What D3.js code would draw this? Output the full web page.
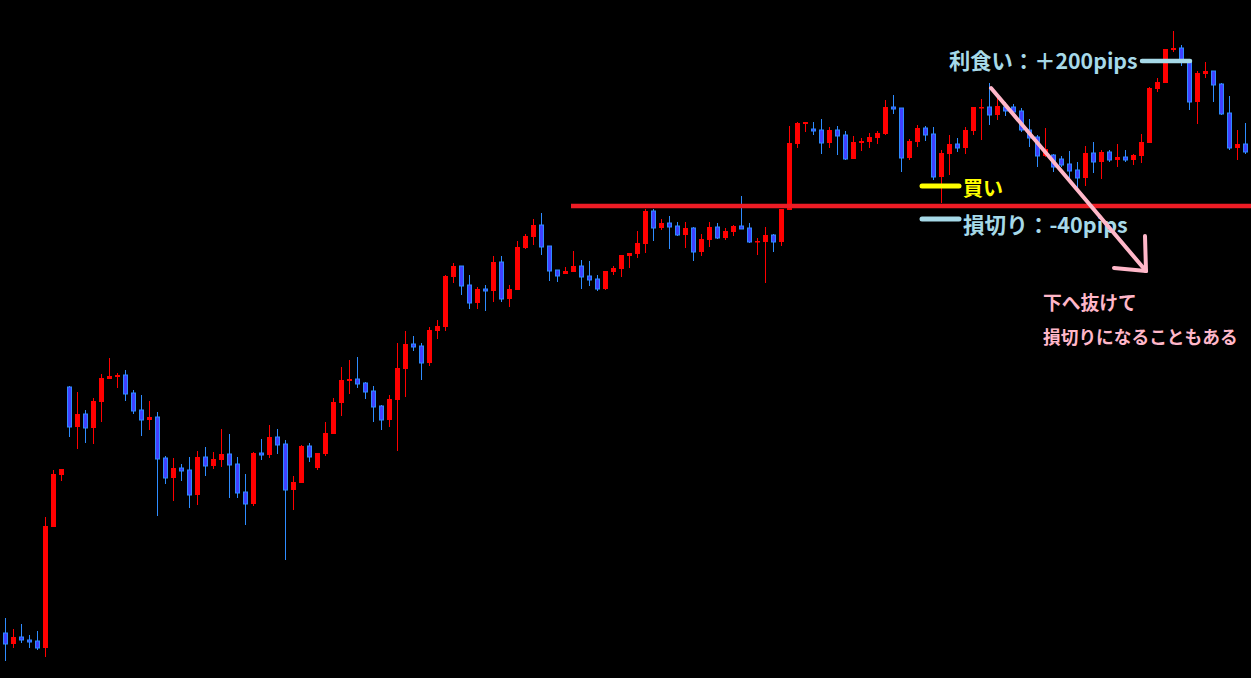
<!DOCTYPE html>
<html><head><meta charset="utf-8">
<script src="https://cdn.jsdelivr.net/npm/d3@7"></script>
<style>html,body{margin:0;padding:0;background:#000;overflow:hidden}</style>
</head><body>
<svg id="chart" width="1251" height="678"></svg>
<script>
const opens = [67,56,63,60,59,52,173,225,313,273,286,272,298,321,323,325,307,290,280,283,242,222,232,230,205,243,234,240,246,236,208,196,247,245,263,256,210,217,254,232,246,266,297,319,321,317,309,294,280,300,331,356,354,337,369,373,423,434,415,397,411,409,438,401,410,452,463,475,454,430,426,428,434,424,421,411,428,431,444,446,456,489,472,477,474,465,472,448,460,473,462,468,474,472,458,458,465,458,490,556,576,571,570,557,570,565,541,557,558,562,566,593,592,542,558,572,566,523,546,556,552,569,592,593,585,593,593,589,570,563,544,545,541,536,530,522,547,538,548,540,543,540,544,557,611,617,650,652,638,598,626,629,616,587,552,556];
const highs = [82,71,76,65,69,183,230,231,314,308,290,302,326,342,327,330,310,305,299,288,244,242,236,243,249,253,248,271,266,243,226,248,261,275,271,260,224,255,257,247,278,302,333,340,343,318,314,295,305,357,369,364,357,373,380,425,437,434,425,413,415,444,444,415,459,466,481,487,454,430,433,449,440,439,425,429,434,445,447,469,491,491,481,484,478,478,473,466,478,477,472,475,504,477,462,473,466,491,574,578,578,578,581,573,574,569,564,562,567,569,600,605,592,561,575,574,573,550,565,562,573,593,601,617,602,598,596,592,581,565,572,546,544,549,538,554,558,550,550,556,550,546,566,613,622,651,669,655,639,629,638,629,617,604,570,577];
const lows = [39,52,57,52,50,43,173,219,263,251,257,256,278,321,312,299,286,264,270,184,216,199,219,192,195,224,231,233,202,202,175,194,240,242,246,140,190,217,238,230,244,266,284,306,312,301,278,270,273,249,303,349,320,334,361,369,417,405,391,391,389,398,398,393,410,451,455,445,419,418,426,428,411,414,409,410,425,423,432,442,447,459,470,451,464,452,439,444,453,461,460,464,471,457,445,417,448,454,490,552,568,565,546,552,545,540,541,549,552,556,565,586,528,540,553,559,520,497,525,548,546,565,560,575,580,584,583,568,553,533,543,528,533,519,512,514,527,521,538,533,538,535,537,557,608,617,648,634,590,576,622,598,585,550,540,546];
const closes = [56,63,60,58,52,174,226,231,273,286,272,299,322,324,325,306,289,280,283,241,222,232,229,205,243,234,241,246,235,207,196,247,245,263,255,210,218,254,243,247,267,298,320,321,316,308,293,280,301,332,356,353,337,370,374,424,434,414,397,411,409,438,401,411,453,464,475,453,429,424,429,434,423,420,411,429,432,445,447,457,489,472,477,473,465,472,448,461,473,462,469,474,471,458,459,465,458,491,557,577,578,569,557,570,564,541,558,559,563,567,593,591,542,559,572,565,523,547,556,552,570,593,593,585,594,589,588,570,562,544,551,533,535,529,522,547,538,548,540,543,540,545,558,612,618,651,652,638,598,627,629,615,586,552,556,548];

// annotation levels (same price units)
const entryLine = 494;
const tpLevel = 639;
const buyLevel = 514;
const slLevel = 481;
const labels = {
  tp: "利食い：＋200pips",
  buy: "買い",
  sl: "損切り：-40pips",
  note1: "下へ抜けて",
  note2: "損切りになることもある"
};

const W = 1251, H = 678;
const svg = d3.select("#chart");
svg.append("rect").attr("width", W).attr("height", H).attr("fill", "#000");

const n = opens.length;
const x = d3.scaleLinear().domain([0, n - 1]).range([5.33, 1245.33]);
const y = d3.scaleLinear().domain([22, 700]).range([H, 0]);

const data = d3.range(n).map(i => ({i, o: opens[i], h: highs[i], l: lows[i], c: closes[i]}));
const upCol = "#ff0000", dnFill = "#4040ff", dnLine = "#2e8cff";

const g = svg.append("g");
g.selectAll("line.wick").data(data).join("line")
  .attr("x1", d => Math.round(x(d.i)) + 0.5).attr("x2", d => Math.round(x(d.i)) + 0.5)
  .attr("y1", d => y(d.h)).attr("y2", d => y(d.l))
  .attr("stroke", d => d.c >= d.o ? upCol : dnLine).attr("stroke-width", 1);
g.selectAll("rect.body").data(data).join("rect")
  .attr("x", d => Math.round(x(d.i)) - 2 + (d.c >= d.o ? 0 : 0.5))
  .attr("width", d => d.c >= d.o ? 5 : 4)
  .attr("y", d => y(Math.max(d.o, d.c)))
  .attr("height", d => Math.max(1.5, Math.abs(y(d.o) - y(d.c))))
  .attr("fill", d => d.c >= d.o ? upCol : dnFill)
  .attr("stroke", d => d.c >= d.o ? "none" : dnLine)
  .attr("stroke-width", 1);

svg.append("line").attr("x1", 571).attr("x2", W)
  .attr("y1", y(entryLine)).attr("y2", y(entryLine))
  .attr("stroke", "#ee1c25").attr("stroke-width", 4.5);

const font = "'Noto Sans CJK JP', 'Noto Sans', sans-serif";
const light = "#a6d9e8", pink = "#ffb7c9", yel = "#ffff00";

svg.append("line").attr("x1", 1142).attr("x2", 1190).attr("y1", y(tpLevel)).attr("y2", y(tpLevel))
  .attr("stroke", light).attr("stroke-width", 4.5).attr("stroke-linecap", "round");
svg.append("text").attr("x", 949).attr("y", y(tpLevel) - 2).attr("dominant-baseline", "central")
  .attr("font-family", font).attr("font-weight", "bold").attr("font-size", 21.3).attr("fill", light)
  .text(labels.tp);
svg.append("line").attr("x1", 922).attr("x2", 959).attr("y1", y(buyLevel)).attr("y2", y(buyLevel))
  .attr("stroke", yel).attr("stroke-width", 5).attr("stroke-linecap", "round");
svg.append("text").attr("x", 963).attr("y", y(buyLevel) + 1).attr("dominant-baseline", "central")
  .attr("font-family", font).attr("font-weight", "bold").attr("font-size", 20).attr("fill", yel)
  .text(labels.buy);
svg.append("line").attr("x1", 922).attr("x2", 959).attr("y1", y(slLevel)).attr("y2", y(slLevel))
  .attr("stroke", light).attr("stroke-width", 5).attr("stroke-linecap", "round");
svg.append("text").attr("x", 963).attr("y", y(slLevel) + 4).attr("dominant-baseline", "central")
  .attr("font-family", font).attr("font-weight", "bold").attr("font-size", 21.6).attr("fill", light)
  .text(labels.sl);

const arrow = svg.append("g").attr("stroke", pink).attr("stroke-width", 4).attr("stroke-linecap", "round").attr("fill", "none");
arrow.append("line").attr("x1", 991).attr("y1", 88).attr("x2", 1146).attr("y2", 271);
arrow.append("line").attr("x1", 1146).attr("y1", 271).attr("x2", 1145).attr("y2", 236);
arrow.append("line").attr("x1", 1146).attr("y1", 271).attr("x2", 1114).attr("y2", 268);

svg.append("text").attr("x", 1043).attr("y", 301).attr("dominant-baseline", "central")
  .attr("font-family", font).attr("font-weight", "bold").attr("font-size", 18.8).attr("fill", pink)
  .text(labels.note1);
svg.append("text").attr("x", 1043).attr("y", 336).attr("dominant-baseline", "central")
  .attr("font-family", font).attr("font-weight", "bold").attr("font-size", 17.7).attr("fill", pink)
  .text(labels.note2);
</script>
</body></html>
